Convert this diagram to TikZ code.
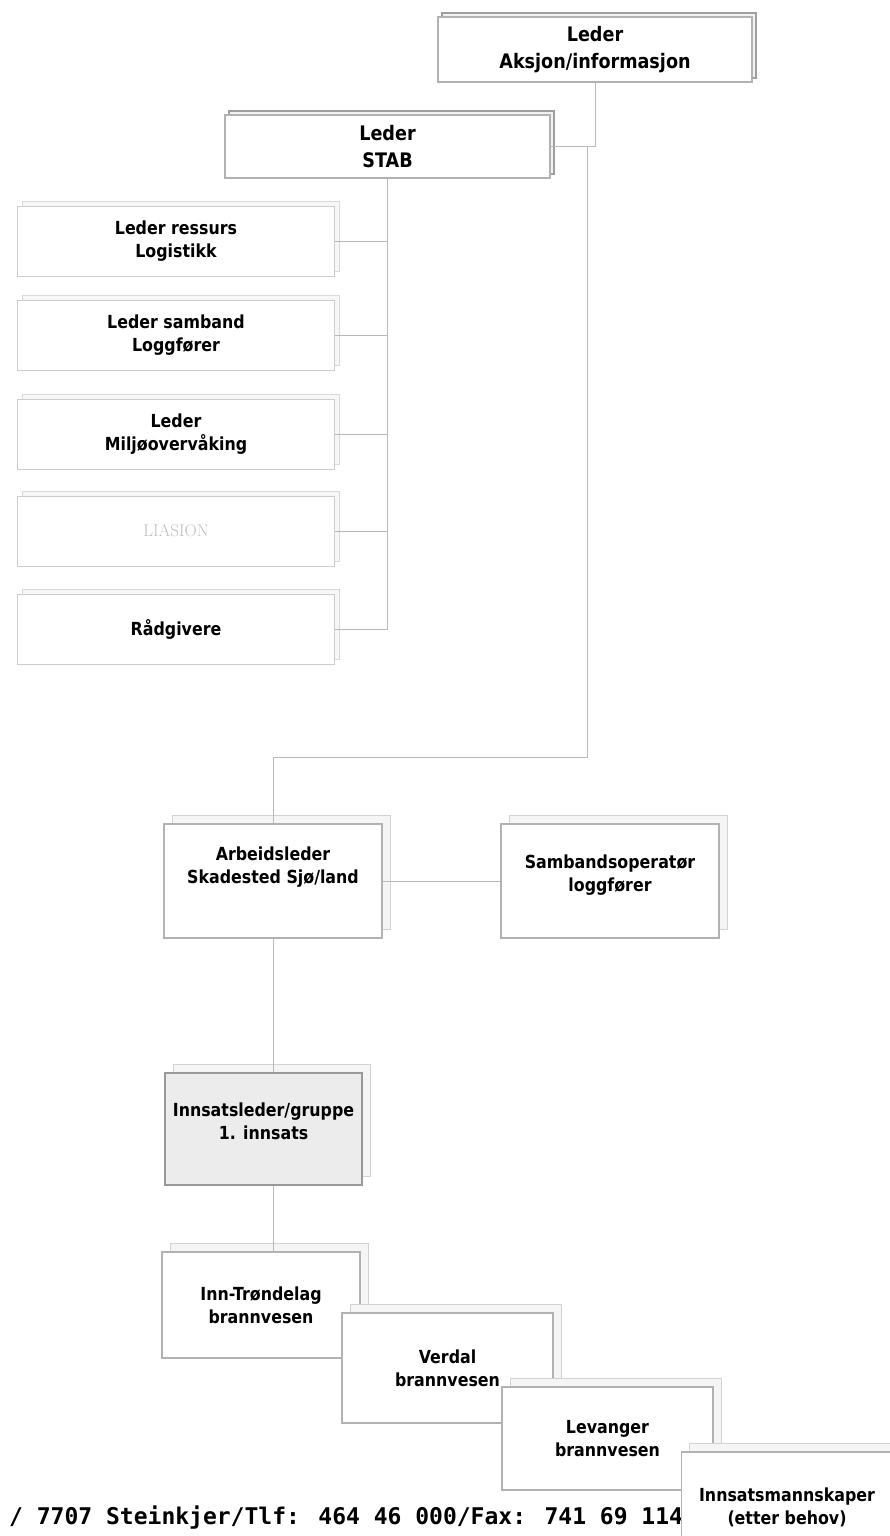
\documentclass[tikz,border=0pt]{standalone}
\usepackage{fontspec}
\usetikzlibrary{shadows}
\newfontfamily\orgfont{DejaVu Sans}[FakeStretch=0.88]
\newfontfamily\footfont{DejaVu Sans Mono}
\tikzset{link/.style={draw=gray!55,line width=1pt}}
\tikzset{orgbox/.style={draw=gray!60,line width=1.2pt,fill=white,align=center,inner sep=2pt,font=\orgfont\bfseries\fontsize{18}{23}\selectfont}}
\tikzset{headbox/.style={orgbox,font=\orgfont\bfseries\fontsize{20}{27}\selectfont,copy shadow={shadow xshift=4pt,shadow yshift=4pt,draw=gray!75,fill=gray!10,line width=1.8pt}}}
\tikzset{staffbox/.style={orgbox,draw=gray!40,line width=1pt,minimum width=317pt,minimum height=70pt,copy shadow={shadow xshift=5pt,shadow yshift=5pt,draw=gray!30,fill=gray!6,line width=1pt}}}
\tikzset{fieldbox/.style={orgbox,copy shadow={shadow xshift=8pt,shadow yshift=9pt,draw=gray!35,fill=gray!8,line width=1pt}}}
\tikzset{leadbox/.style={fieldbox,fill=gray!15,draw=gray!80,line width=1.8pt}}

\begin{document}
\begin{tikzpicture}[x=1pt,y=-1pt]
    \useasboundingbox[fill=white] (0,0) rectangle (890,1536);
    \node[headbox,minimum width=314pt,minimum height=65pt] (aksjon) at (595,49.5) {Leder\\Aksjon/informasjon};
    \node[headbox,minimum width=325pt,minimum height=63pt] (stab) at (387.5,146.5) {Leder\\STAB};
    \node[staffbox] (staff1) at (176,241) {Leder ressurs\\Logistikk};
    \node[staffbox] (staff2) at (176,335) {Leder samband\\Loggfører};
    \node[staffbox] (staff3) at (176,434) {Leder\\Miljøovervåking};
    \node[staffbox] (staff4) at (176,531) {\rmfamily\mdseries\fontsize{17}{20}\selectfont\color{gray!50}LIASION};
    \node[staffbox] (staff5) at (176,629) {Rådgivere};
    \draw[link] (aksjon) |- (stab);
    \draw[link] (stab) |- (staff1);
    \draw[link] (stab) |- (staff2);
    \draw[link] (stab) |- (staff3);
    \draw[link] (stab) |- (staff4);
    \draw[link] (stab) |- (staff5);
    \node[fieldbox,minimum width=218pt,minimum height=114pt] (arbeid) at (273,881) {Arbeidsleder\\Skadested Sjø/land\\[8pt]\mbox{}};
    \node[fieldbox,minimum width=218pt,minimum height=114pt] (samband) at (610,881) {Sambandsoperatør\\loggfører\\[-8pt]\mbox{}};
    \coordinate (split) at (587,147);
    \coordinate (bend) at (273,757);
    \draw[link] (split) |- (bend) -- (arbeid);
    \draw[link] (arbeid) -- (samband);
    \node[leadbox,minimum width=197pt,minimum height=112pt] (innsats) at (263.5,1129) {Innsatsleder/gruppe\\1. innsats\\[-8pt]\mbox{}};
    \draw[link] (arbeid) -- (arbeid |- innsats.north);
    \node[fieldbox,minimum width=198pt,minimum height=106pt] (inntr) at (261,1305) {Inn-Trøndelag\\brannvesen};
    \draw[link] (arbeid |- innsats.south) -- (arbeid |- inntr.north);
    \node[fieldbox,minimum width=211pt,minimum height=110pt] (verdal) at (447.5,1368) {Verdal\\brannvesen};
    \node[fieldbox,minimum width=211pt,minimum height=103pt] (levanger) at (607.5,1438.5) {Levanger\\brannvesen};
    \node[anchor=base west,inner sep=0pt,font=\footfont\bfseries\fontsize{23}{28}\selectfont] (adresse) at (9,1524) {/ 7707 Steinkjer/Tlf: 464 46 000/Fax: 741 69 114};
    \node[fieldbox,minimum width=211pt,minimum height=110pt] (mann) at (787,1507) {Innsatsmannskaper\\(etter behov)};
\end{tikzpicture}
\end{document}
